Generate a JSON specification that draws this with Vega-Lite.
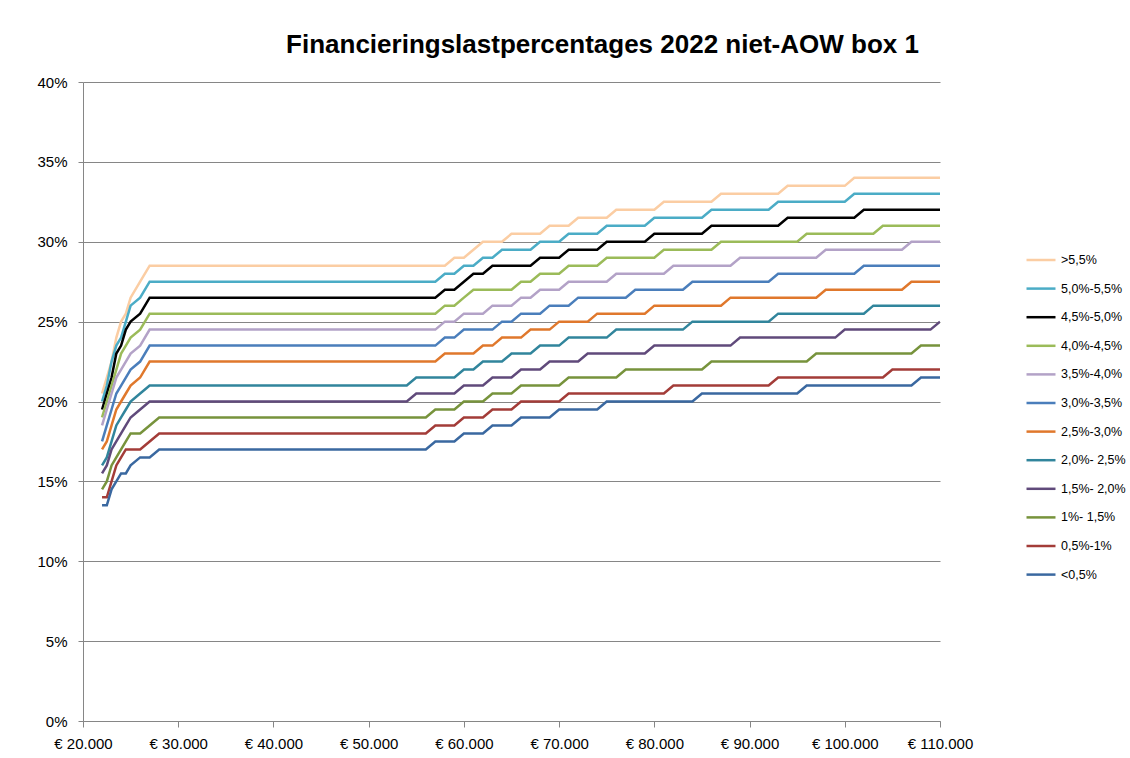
{
"$schema": "https://vega.github.io/schema/vega-lite/v6.json",
"width": 857, "height": 639,
"autosize": {"type": "none"},
"padding": {"left": 83, "top": 82, "right": 190, "bottom": 37},
"background": "white",
"title": {"text": "Financieringslastpercentages 2022 niet-AOW box 1", "font": "Liberation Sans", "fontSize": 26, "fontWeight": "bold", "color": "#000000", "anchor": "middle", "dx": 91, "offset": 17},
"data": {"values": [
{"s":">5,5%","x":22000,"y":20.5},{"s":">5,5%","x":22500,"y":21.5},{"s":">5,5%","x":23000,"y":22.5},{"s":">5,5%","x":23500,"y":24},{"s":">5,5%","x":24000,"y":25},{"s":">5,5%","x":24500,"y":25.5},{"s":">5,5%","x":25000,"y":26.5},{"s":">5,5%","x":26000,"y":27.5},{"s":">5,5%","x":27000,"y":28.5},{"s":">5,5%","x":58000,"y":28.5},{"s":">5,5%","x":59000,"y":29},{"s":">5,5%","x":60000,"y":29},{"s":">5,5%","x":61000,"y":29.5},{"s":">5,5%","x":62000,"y":30},{"s":">5,5%","x":64000,"y":30},{"s":">5,5%","x":65000,"y":30.5},{"s":">5,5%","x":68000,"y":30.5},{"s":">5,5%","x":69000,"y":31},{"s":">5,5%","x":71000,"y":31},{"s":">5,5%","x":72000,"y":31.5},{"s":">5,5%","x":75000,"y":31.5},{"s":">5,5%","x":76000,"y":32},{"s":">5,5%","x":80000,"y":32},{"s":">5,5%","x":81000,"y":32.5},{"s":">5,5%","x":86000,"y":32.5},{"s":">5,5%","x":87000,"y":33},{"s":">5,5%","x":93000,"y":33},{"s":">5,5%","x":94000,"y":33.5},{"s":">5,5%","x":100000,"y":33.5},{"s":">5,5%","x":101000,"y":34},{"s":">5,5%","x":110000,"y":34},
{"s":"5,0%-5,5%","x":22000,"y":20},{"s":"5,0%-5,5%","x":22500,"y":21},{"s":"5,0%-5,5%","x":23000,"y":22.5},{"s":"5,0%-5,5%","x":23500,"y":23.5},{"s":"5,0%-5,5%","x":24000,"y":24},{"s":"5,0%-5,5%","x":24500,"y":25},{"s":"5,0%-5,5%","x":25000,"y":26},{"s":"5,0%-5,5%","x":26000,"y":26.5},{"s":"5,0%-5,5%","x":27000,"y":27.5},{"s":"5,0%-5,5%","x":57000,"y":27.5},{"s":"5,0%-5,5%","x":58000,"y":28},{"s":"5,0%-5,5%","x":59000,"y":28},{"s":"5,0%-5,5%","x":60000,"y":28.5},{"s":"5,0%-5,5%","x":61000,"y":28.5},{"s":"5,0%-5,5%","x":62000,"y":29},{"s":"5,0%-5,5%","x":63000,"y":29},{"s":"5,0%-5,5%","x":64000,"y":29.5},{"s":"5,0%-5,5%","x":67000,"y":29.5},{"s":"5,0%-5,5%","x":68000,"y":30},{"s":"5,0%-5,5%","x":70000,"y":30},{"s":"5,0%-5,5%","x":71000,"y":30.5},{"s":"5,0%-5,5%","x":74000,"y":30.5},{"s":"5,0%-5,5%","x":75000,"y":31},{"s":"5,0%-5,5%","x":79000,"y":31},{"s":"5,0%-5,5%","x":80000,"y":31.5},{"s":"5,0%-5,5%","x":85000,"y":31.5},{"s":"5,0%-5,5%","x":86000,"y":32},{"s":"5,0%-5,5%","x":92000,"y":32},{"s":"5,0%-5,5%","x":93000,"y":32.5},{"s":"5,0%-5,5%","x":100000,"y":32.5},{"s":"5,0%-5,5%","x":101000,"y":33},{"s":"5,0%-5,5%","x":110000,"y":33},
{"s":"4,5%-5,0%","x":22000,"y":19.5},{"s":"4,5%-5,0%","x":22500,"y":20.5},{"s":"4,5%-5,0%","x":23000,"y":21.5},{"s":"4,5%-5,0%","x":23500,"y":23},{"s":"4,5%-5,0%","x":24000,"y":23.5},{"s":"4,5%-5,0%","x":24500,"y":24.5},{"s":"4,5%-5,0%","x":25000,"y":25},{"s":"4,5%-5,0%","x":26000,"y":25.5},{"s":"4,5%-5,0%","x":27000,"y":26.5},{"s":"4,5%-5,0%","x":57000,"y":26.5},{"s":"4,5%-5,0%","x":58000,"y":27},{"s":"4,5%-5,0%","x":59000,"y":27},{"s":"4,5%-5,0%","x":60000,"y":27.5},{"s":"4,5%-5,0%","x":61000,"y":28},{"s":"4,5%-5,0%","x":62000,"y":28},{"s":"4,5%-5,0%","x":63000,"y":28.5},{"s":"4,5%-5,0%","x":67000,"y":28.5},{"s":"4,5%-5,0%","x":68000,"y":29},{"s":"4,5%-5,0%","x":70000,"y":29},{"s":"4,5%-5,0%","x":71000,"y":29.5},{"s":"4,5%-5,0%","x":74000,"y":29.5},{"s":"4,5%-5,0%","x":75000,"y":30},{"s":"4,5%-5,0%","x":79000,"y":30},{"s":"4,5%-5,0%","x":80000,"y":30.5},{"s":"4,5%-5,0%","x":85000,"y":30.5},{"s":"4,5%-5,0%","x":86000,"y":31},{"s":"4,5%-5,0%","x":93000,"y":31},{"s":"4,5%-5,0%","x":94000,"y":31.5},{"s":"4,5%-5,0%","x":101000,"y":31.5},{"s":"4,5%-5,0%","x":102000,"y":32},{"s":"4,5%-5,0%","x":110000,"y":32},
{"s":"4,0%-4,5%","x":22000,"y":19},{"s":"4,0%-4,5%","x":22500,"y":20},{"s":"4,0%-4,5%","x":23000,"y":21},{"s":"4,0%-4,5%","x":23500,"y":22},{"s":"4,0%-4,5%","x":24000,"y":23},{"s":"4,0%-4,5%","x":24500,"y":23.5},{"s":"4,0%-4,5%","x":25000,"y":24},{"s":"4,0%-4,5%","x":26000,"y":24.5},{"s":"4,0%-4,5%","x":27000,"y":25.5},{"s":"4,0%-4,5%","x":57000,"y":25.5},{"s":"4,0%-4,5%","x":58000,"y":26},{"s":"4,0%-4,5%","x":59000,"y":26},{"s":"4,0%-4,5%","x":60000,"y":26.5},{"s":"4,0%-4,5%","x":61000,"y":27},{"s":"4,0%-4,5%","x":65000,"y":27},{"s":"4,0%-4,5%","x":66000,"y":27.5},{"s":"4,0%-4,5%","x":67000,"y":27.5},{"s":"4,0%-4,5%","x":68000,"y":28},{"s":"4,0%-4,5%","x":70000,"y":28},{"s":"4,0%-4,5%","x":71000,"y":28.5},{"s":"4,0%-4,5%","x":74000,"y":28.5},{"s":"4,0%-4,5%","x":75000,"y":29},{"s":"4,0%-4,5%","x":80000,"y":29},{"s":"4,0%-4,5%","x":81000,"y":29.5},{"s":"4,0%-4,5%","x":86000,"y":29.5},{"s":"4,0%-4,5%","x":87000,"y":30},{"s":"4,0%-4,5%","x":95000,"y":30},{"s":"4,0%-4,5%","x":96000,"y":30.5},{"s":"4,0%-4,5%","x":103000,"y":30.5},{"s":"4,0%-4,5%","x":104000,"y":31},{"s":"4,0%-4,5%","x":110000,"y":31},
{"s":"3,5%-4,0%","x":22000,"y":18.5},{"s":"3,5%-4,0%","x":22500,"y":19.5},{"s":"3,5%-4,0%","x":23000,"y":20.5},{"s":"3,5%-4,0%","x":23500,"y":21.5},{"s":"3,5%-4,0%","x":24000,"y":22},{"s":"3,5%-4,0%","x":24500,"y":22.5},{"s":"3,5%-4,0%","x":25000,"y":23},{"s":"3,5%-4,0%","x":26000,"y":23.5},{"s":"3,5%-4,0%","x":27000,"y":24.5},{"s":"3,5%-4,0%","x":57000,"y":24.5},{"s":"3,5%-4,0%","x":58000,"y":25},{"s":"3,5%-4,0%","x":59000,"y":25},{"s":"3,5%-4,0%","x":60000,"y":25.5},{"s":"3,5%-4,0%","x":62000,"y":25.5},{"s":"3,5%-4,0%","x":63000,"y":26},{"s":"3,5%-4,0%","x":65000,"y":26},{"s":"3,5%-4,0%","x":66000,"y":26.5},{"s":"3,5%-4,0%","x":67000,"y":26.5},{"s":"3,5%-4,0%","x":68000,"y":27},{"s":"3,5%-4,0%","x":70000,"y":27},{"s":"3,5%-4,0%","x":71000,"y":27.5},{"s":"3,5%-4,0%","x":75000,"y":27.5},{"s":"3,5%-4,0%","x":76000,"y":28},{"s":"3,5%-4,0%","x":81000,"y":28},{"s":"3,5%-4,0%","x":82000,"y":28.5},{"s":"3,5%-4,0%","x":88000,"y":28.5},{"s":"3,5%-4,0%","x":89000,"y":29},{"s":"3,5%-4,0%","x":97000,"y":29},{"s":"3,5%-4,0%","x":98000,"y":29.5},{"s":"3,5%-4,0%","x":106000,"y":29.5},{"s":"3,5%-4,0%","x":107000,"y":30},{"s":"3,5%-4,0%","x":110000,"y":30},
{"s":"3,0%-3,5%","x":22000,"y":17.5},{"s":"3,0%-3,5%","x":22500,"y":18.5},{"s":"3,0%-3,5%","x":23000,"y":19.5},{"s":"3,0%-3,5%","x":23500,"y":20.5},{"s":"3,0%-3,5%","x":24000,"y":21},{"s":"3,0%-3,5%","x":24500,"y":21.5},{"s":"3,0%-3,5%","x":25000,"y":22},{"s":"3,0%-3,5%","x":26000,"y":22.5},{"s":"3,0%-3,5%","x":27000,"y":23.5},{"s":"3,0%-3,5%","x":57000,"y":23.5},{"s":"3,0%-3,5%","x":58000,"y":24},{"s":"3,0%-3,5%","x":59000,"y":24},{"s":"3,0%-3,5%","x":60000,"y":24.5},{"s":"3,0%-3,5%","x":63000,"y":24.5},{"s":"3,0%-3,5%","x":64000,"y":25},{"s":"3,0%-3,5%","x":65000,"y":25},{"s":"3,0%-3,5%","x":66000,"y":25.5},{"s":"3,0%-3,5%","x":68000,"y":25.5},{"s":"3,0%-3,5%","x":69000,"y":26},{"s":"3,0%-3,5%","x":71000,"y":26},{"s":"3,0%-3,5%","x":72000,"y":26.5},{"s":"3,0%-3,5%","x":77000,"y":26.5},{"s":"3,0%-3,5%","x":78000,"y":27},{"s":"3,0%-3,5%","x":83000,"y":27},{"s":"3,0%-3,5%","x":84000,"y":27.5},{"s":"3,0%-3,5%","x":92000,"y":27.5},{"s":"3,0%-3,5%","x":93000,"y":28},{"s":"3,0%-3,5%","x":101000,"y":28},{"s":"3,0%-3,5%","x":102000,"y":28.5},{"s":"3,0%-3,5%","x":110000,"y":28.5},
{"s":"2,5%-3,0%","x":22000,"y":17},{"s":"2,5%-3,0%","x":22500,"y":17.5},{"s":"2,5%-3,0%","x":23000,"y":18.5},{"s":"2,5%-3,0%","x":23500,"y":19.5},{"s":"2,5%-3,0%","x":24000,"y":20},{"s":"2,5%-3,0%","x":24500,"y":20.5},{"s":"2,5%-3,0%","x":25000,"y":21},{"s":"2,5%-3,0%","x":26000,"y":21.5},{"s":"2,5%-3,0%","x":27000,"y":22.5},{"s":"2,5%-3,0%","x":57000,"y":22.5},{"s":"2,5%-3,0%","x":58000,"y":23},{"s":"2,5%-3,0%","x":61000,"y":23},{"s":"2,5%-3,0%","x":62000,"y":23.5},{"s":"2,5%-3,0%","x":63000,"y":23.5},{"s":"2,5%-3,0%","x":64000,"y":24},{"s":"2,5%-3,0%","x":66000,"y":24},{"s":"2,5%-3,0%","x":67000,"y":24.5},{"s":"2,5%-3,0%","x":69000,"y":24.5},{"s":"2,5%-3,0%","x":70000,"y":25},{"s":"2,5%-3,0%","x":73000,"y":25},{"s":"2,5%-3,0%","x":74000,"y":25.5},{"s":"2,5%-3,0%","x":79000,"y":25.5},{"s":"2,5%-3,0%","x":80000,"y":26},{"s":"2,5%-3,0%","x":87000,"y":26},{"s":"2,5%-3,0%","x":88000,"y":26.5},{"s":"2,5%-3,0%","x":97000,"y":26.5},{"s":"2,5%-3,0%","x":98000,"y":27},{"s":"2,5%-3,0%","x":106000,"y":27},{"s":"2,5%-3,0%","x":107000,"y":27.5},{"s":"2,5%-3,0%","x":110000,"y":27.5},
{"s":"2,0%- 2,5%","x":22000,"y":16},{"s":"2,0%- 2,5%","x":22500,"y":16.5},{"s":"2,0%- 2,5%","x":23000,"y":17.5},{"s":"2,0%- 2,5%","x":23500,"y":18.5},{"s":"2,0%- 2,5%","x":24000,"y":19},{"s":"2,0%- 2,5%","x":24500,"y":19.5},{"s":"2,0%- 2,5%","x":25000,"y":20},{"s":"2,0%- 2,5%","x":26000,"y":20.5},{"s":"2,0%- 2,5%","x":27000,"y":21},{"s":"2,0%- 2,5%","x":54000,"y":21},{"s":"2,0%- 2,5%","x":55000,"y":21.5},{"s":"2,0%- 2,5%","x":59000,"y":21.5},{"s":"2,0%- 2,5%","x":60000,"y":22},{"s":"2,0%- 2,5%","x":61000,"y":22},{"s":"2,0%- 2,5%","x":62000,"y":22.5},{"s":"2,0%- 2,5%","x":64000,"y":22.5},{"s":"2,0%- 2,5%","x":65000,"y":23},{"s":"2,0%- 2,5%","x":67000,"y":23},{"s":"2,0%- 2,5%","x":68000,"y":23.5},{"s":"2,0%- 2,5%","x":70000,"y":23.5},{"s":"2,0%- 2,5%","x":71000,"y":24},{"s":"2,0%- 2,5%","x":75000,"y":24},{"s":"2,0%- 2,5%","x":76000,"y":24.5},{"s":"2,0%- 2,5%","x":83000,"y":24.5},{"s":"2,0%- 2,5%","x":84000,"y":25},{"s":"2,0%- 2,5%","x":92000,"y":25},{"s":"2,0%- 2,5%","x":93000,"y":25.5},{"s":"2,0%- 2,5%","x":102000,"y":25.5},{"s":"2,0%- 2,5%","x":103000,"y":26},{"s":"2,0%- 2,5%","x":110000,"y":26},
{"s":"1,5%- 2,0%","x":22000,"y":15.5},{"s":"1,5%- 2,0%","x":22500,"y":16},{"s":"1,5%- 2,0%","x":23000,"y":17},{"s":"1,5%- 2,0%","x":23500,"y":17.5},{"s":"1,5%- 2,0%","x":24000,"y":18},{"s":"1,5%- 2,0%","x":24500,"y":18.5},{"s":"1,5%- 2,0%","x":25000,"y":19},{"s":"1,5%- 2,0%","x":26000,"y":19.5},{"s":"1,5%- 2,0%","x":27000,"y":20},{"s":"1,5%- 2,0%","x":54000,"y":20},{"s":"1,5%- 2,0%","x":55000,"y":20.5},{"s":"1,5%- 2,0%","x":59000,"y":20.5},{"s":"1,5%- 2,0%","x":60000,"y":21},{"s":"1,5%- 2,0%","x":62000,"y":21},{"s":"1,5%- 2,0%","x":63000,"y":21.5},{"s":"1,5%- 2,0%","x":65000,"y":21.5},{"s":"1,5%- 2,0%","x":66000,"y":22},{"s":"1,5%- 2,0%","x":68000,"y":22},{"s":"1,5%- 2,0%","x":69000,"y":22.5},{"s":"1,5%- 2,0%","x":72000,"y":22.5},{"s":"1,5%- 2,0%","x":73000,"y":23},{"s":"1,5%- 2,0%","x":79000,"y":23},{"s":"1,5%- 2,0%","x":80000,"y":23.5},{"s":"1,5%- 2,0%","x":88000,"y":23.5},{"s":"1,5%- 2,0%","x":89000,"y":24},{"s":"1,5%- 2,0%","x":99000,"y":24},{"s":"1,5%- 2,0%","x":100000,"y":24.5},{"s":"1,5%- 2,0%","x":109000,"y":24.5},{"s":"1,5%- 2,0%","x":110000,"y":25},
{"s":"1%- 1,5%","x":22000,"y":14.5},{"s":"1%- 1,5%","x":22500,"y":15},{"s":"1%- 1,5%","x":23000,"y":16},{"s":"1%- 1,5%","x":23500,"y":16.5},{"s":"1%- 1,5%","x":24000,"y":17},{"s":"1%- 1,5%","x":24500,"y":17.5},{"s":"1%- 1,5%","x":25000,"y":18},{"s":"1%- 1,5%","x":26000,"y":18},{"s":"1%- 1,5%","x":27000,"y":18.5},{"s":"1%- 1,5%","x":28000,"y":19},{"s":"1%- 1,5%","x":56000,"y":19},{"s":"1%- 1,5%","x":57000,"y":19.5},{"s":"1%- 1,5%","x":59000,"y":19.5},{"s":"1%- 1,5%","x":60000,"y":20},{"s":"1%- 1,5%","x":62000,"y":20},{"s":"1%- 1,5%","x":63000,"y":20.5},{"s":"1%- 1,5%","x":65000,"y":20.5},{"s":"1%- 1,5%","x":66000,"y":21},{"s":"1%- 1,5%","x":70000,"y":21},{"s":"1%- 1,5%","x":71000,"y":21.5},{"s":"1%- 1,5%","x":76000,"y":21.5},{"s":"1%- 1,5%","x":77000,"y":22},{"s":"1%- 1,5%","x":85000,"y":22},{"s":"1%- 1,5%","x":86000,"y":22.5},{"s":"1%- 1,5%","x":96000,"y":22.5},{"s":"1%- 1,5%","x":97000,"y":23},{"s":"1%- 1,5%","x":107000,"y":23},{"s":"1%- 1,5%","x":108000,"y":23.5},{"s":"1%- 1,5%","x":110000,"y":23.5},
{"s":"0,5%-1%","x":22000,"y":14},{"s":"0,5%-1%","x":22500,"y":14},{"s":"0,5%-1%","x":23000,"y":15},{"s":"0,5%-1%","x":23500,"y":16},{"s":"0,5%-1%","x":24000,"y":16.5},{"s":"0,5%-1%","x":24500,"y":17},{"s":"0,5%-1%","x":26000,"y":17},{"s":"0,5%-1%","x":27000,"y":17.5},{"s":"0,5%-1%","x":28000,"y":18},{"s":"0,5%-1%","x":56000,"y":18},{"s":"0,5%-1%","x":57000,"y":18.5},{"s":"0,5%-1%","x":59000,"y":18.5},{"s":"0,5%-1%","x":60000,"y":19},{"s":"0,5%-1%","x":62000,"y":19},{"s":"0,5%-1%","x":63000,"y":19.5},{"s":"0,5%-1%","x":65000,"y":19.5},{"s":"0,5%-1%","x":66000,"y":20},{"s":"0,5%-1%","x":70000,"y":20},{"s":"0,5%-1%","x":71000,"y":20.5},{"s":"0,5%-1%","x":81000,"y":20.5},{"s":"0,5%-1%","x":82000,"y":21},{"s":"0,5%-1%","x":92000,"y":21},{"s":"0,5%-1%","x":93000,"y":21.5},{"s":"0,5%-1%","x":104000,"y":21.5},{"s":"0,5%-1%","x":105000,"y":22},{"s":"0,5%-1%","x":110000,"y":22},
{"s":"<0,5%","x":22000,"y":13.5},{"s":"<0,5%","x":22500,"y":13.5},{"s":"<0,5%","x":23000,"y":14.5},{"s":"<0,5%","x":23500,"y":15},{"s":"<0,5%","x":24000,"y":15.5},{"s":"<0,5%","x":24500,"y":15.5},{"s":"<0,5%","x":25000,"y":16},{"s":"<0,5%","x":26000,"y":16.5},{"s":"<0,5%","x":27000,"y":16.5},{"s":"<0,5%","x":28000,"y":17},{"s":"<0,5%","x":56000,"y":17},{"s":"<0,5%","x":57000,"y":17.5},{"s":"<0,5%","x":59000,"y":17.5},{"s":"<0,5%","x":60000,"y":18},{"s":"<0,5%","x":62000,"y":18},{"s":"<0,5%","x":63000,"y":18.5},{"s":"<0,5%","x":65000,"y":18.5},{"s":"<0,5%","x":66000,"y":19},{"s":"<0,5%","x":69000,"y":19},{"s":"<0,5%","x":70000,"y":19.5},{"s":"<0,5%","x":74000,"y":19.5},{"s":"<0,5%","x":75000,"y":20},{"s":"<0,5%","x":84000,"y":20},{"s":"<0,5%","x":85000,"y":20.5},{"s":"<0,5%","x":95000,"y":20.5},{"s":"<0,5%","x":96000,"y":21},{"s":"<0,5%","x":107000,"y":21},{"s":"<0,5%","x":108000,"y":21.5},{"s":"<0,5%","x":110000,"y":21.5}
]},
"mark": {"type": "line", "strokeWidth": 2.5, "clip": true},
"encoding": {
"x": {"field": "x", "type": "quantitative",
"scale": {"domain": [20000, 110000], "nice": false, "zero": false},
"axis": {"title": null, "values": [20000,30000,40000,50000,60000,70000,80000,90000,100000,110000], "labelExpr": "'€ ' + replace(format(datum.value, ',.0f'), ',', '.')", "grid": false, "domainColor": "#868686", "domainWidth": 1, "tickColor": "#868686", "tickSize": 6, "labelFont": "Liberation Sans", "labelFontSize": 15, "labelColor": "#000000", "labelPadding": 9, "labelFlush": false, "labelOverlap": false}},
"y": {"field": "y", "type": "quantitative",
"scale": {"domain": [0, 40], "nice": false},
"axis": {"title": null, "values": [0,5,10,15,20,25,30,35,40], "labelExpr": "datum.value + '%'", "grid": true, "gridColor": "#868686", "gridWidth": 1, "domainColor": "#868686", "domainWidth": 1, "tickColor": "#868686", "tickSize": 5, "labelFont": "Liberation Sans", "labelFontSize": 15, "labelColor": "#000000", "labelPadding": 11}},
"color": {"field": "s", "type": "nominal",
"scale": {"domain": [">5,5%","5,0%-5,5%","4,5%-5,0%","4,0%-4,5%","3,5%-4,0%","3,0%-3,5%","2,5%-3,0%","2,0%- 2,5%","1,5%- 2,0%","1%- 1,5%","0,5%-1%","<0,5%"],
"range": ["#FBCDA3","#4BACC6","#000000","#9BBB59","#B3A2C7","#4A7EBB","#E0782C","#31859C","#604A7B","#77933C","#A33C38","#3A68A0"]},
"legend": {"title": null, "orient": "none", "legendX": 942, "legendY": 162, "symbolType": "stroke", "symbolSize": 840, "symbolStrokeWidth": 2.5, "labelFont": "Liberation Sans", "labelFontSize": 12.5, "labelColor": "#000000", "labelOffset": 4, "rowPadding": 5.6, "labelLimit": 200}}
},
"config": {"view": {"stroke": null}}
}
